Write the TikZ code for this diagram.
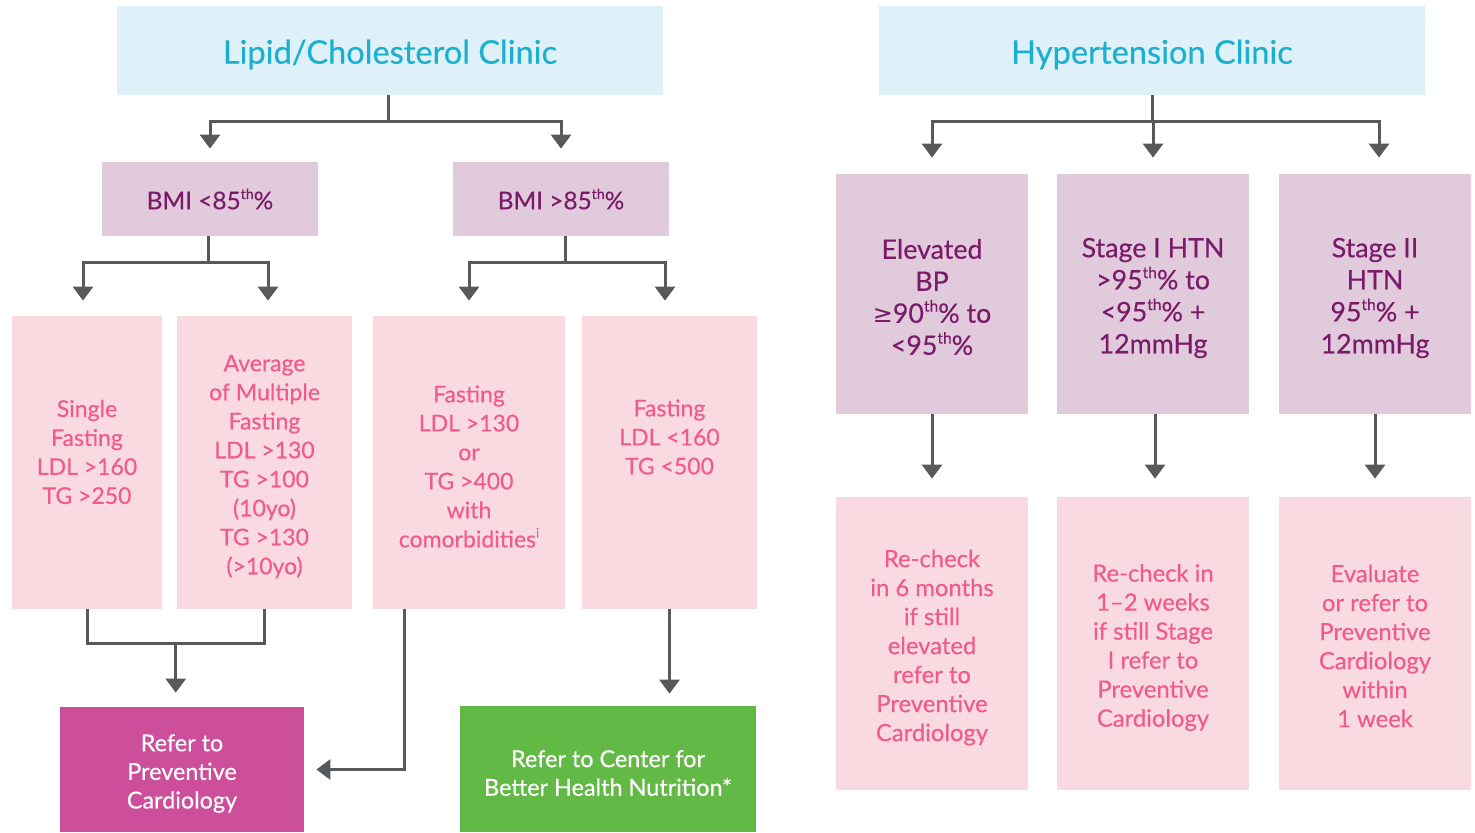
\documentclass[tikz,border=0pt]{standalone}
\usepackage{fontspec}
\setmainfont{Lato}[FakeBold=0.35]
\newfontfamily\dvs{DejaVu Sans}
\usetikzlibrary{arrows.meta,calc}
\definecolor{titlebg}{HTML}{DFF1F8}
\definecolor{titlefg}{HTML}{1BB0D0}
\definecolor{purbg}{HTML}{E1CADB}
\definecolor{purfg}{HTML}{7A1B6A}
\definecolor{pinkbg}{HTML}{F9DAE1}
\definecolor{pinkfg}{HTML}{F05A8C}
\definecolor{magbox}{HTML}{CD4F9C}
\definecolor{greenbox}{HTML}{62B946}
\definecolor{linegray}{HTML}{58595B}
\tikzset{
  box/.style={draw=none, inner sep=0pt},
  txt/.style={inner sep=0pt, align=center, yshift=-2pt},
  titlebox/.style={box, fill=titlebg, minimum width=273pt, minimum height=44.5pt},
  titletxt/.style={txt, text=titlefg, font=\fontsize{16.3}{19}\selectfont},
  bmibox/.style={box, fill=purbg, minimum width=108pt, minimum height=37pt},
  bmitxt/.style={txt, yshift=2pt, text=purfg, font=\fontsize{12.2}{14}\selectfont},
  hypbox/.style={box, fill=purbg, minimum width=96pt, minimum height=120pt},
  hyptxt/.style={txt, text=purfg, font=\fontsize{13.4}{16}\selectfont},
  pinkbox/.style={box, fill=pinkbg, minimum height=146.5pt},
  pinktext/.style={txt, text=pinkfg, font=\fontsize{11.5}{14.5}\selectfont},
  pinktextB/.style={txt, text=pinkfg, font=\fontsize{11.9}{14.5}\selectfont},
  outtxt/.style={txt, text=white, font=\fontsize{11.7}{14.3}\selectfont},
  conn/.style={draw=linegray, line width=1.5pt},
  arr/.style={conn, -{Triangle[width=10pt,length=7pt]}},
}
\newcommand{\supsm}[1]{\raisebox{0.42em}{\scalebox{0.58}{#1}}}
\newcommand{\thp}{\supsm{th}\%}
\begin{document}
\begin{tikzpicture}[x=0.5pt,y=-0.5pt]
\path[use as bounding box] (0,0) rectangle (1475,832);
% titles
\node[titlebox] (lip) at (390,50.5) {};
\node[titletxt] (liptxt) at (lip.center) {Lipid/Cholesterol Clinic};
\node[titlebox] (hyp) at (1152,50.5) {};
\node[titletxt] (hyptxt) at (hyp.center) {Hypertension Clinic};
% BMI
\node[bmibox] (bmiA) at (210,199) {};
\node[bmitxt] (bmiAtxt) at (bmiA.center) {BMI <85\thp};
\node[bmibox] (bmiB) at (561,199) {};
\node[bmitxt] (bmiBtxt) at (bmiB.center) {BMI >85\thp};
% lipid criteria
\node[pinkbox, minimum width=75pt] (single) at (87,462.5) {};
\node[pinktext] (singletxt) at (87,448) {Single\\Fasting\\LDL >160\\TG >250};
\node[pinkbox, minimum width=87.5pt] (avg) at (264.5,462.5) {};
\node[pinktext] (avgtxt) at (avg.center) {Average\\of Multiple\\Fasting\\LDL >130\\TG >100\\(10yo)\\TG >130\\(>10yo)};
\node[pinkbox, minimum width=96pt] (f130) at (469,462.5) {};
\node[pinktext] (f130txt) at (f130.center) {Fasting\\LDL >130\\or\\TG >400\\with\\comorbidities\supsm{i}};
\node[pinkbox, minimum width=87.5pt] (f160) at (669.5,462.5) {};
\node[pinktext] (f160txt) at (669.5,433) {Fasting\\LDL <160\\TG <500};
% outcomes
\node[box, fill=magbox, minimum width=122pt, minimum height=62.5pt] (ref) at (182,769.5) {};
\node[outtxt] (reftxt) at (ref.center) {Refer to\\Preventive\\Cardiology};
\node[box, fill=greenbox, minimum width=148pt, minimum height=63pt] (green) at (608,769) {};
\node[outtxt] (greentxt) at (green.center) {Refer to Center for\\Better Health Nutrition*};
% hypertension stages
\node[hypbox] (e1) at (932,294) {};
\node[hyptxt] (e1txt) at (932,293) {Elevated\\BP\\{\dvs\fontsize{12}{16}\selectfont ≥}90\thp{} to\\<95\thp};
\node[hypbox] (e2) at (1153,294) {};
\node[hyptxt] (e2txt) at (e2.center) {Stage I HTN\\>95\thp{} to\\<95\thp{} +\\12mmHg};
\node[hypbox] (e3) at (1375,294) {};
\node[hyptxt] (e3txt) at (e3.center) {Stage II\\HTN\\95\thp{} +\\12mmHg};
\node[pinkbox, minimum width=96pt] (l1) at (932,643.5) {};
\node[pinktextB] (l1txt) at (l1.center) {Re-check\\in 6 months\\if still\\elevated\\refer to\\Preventive\\Cardiology};
\node[pinkbox, minimum width=96pt] (l2) at (1153,643.5) {};
\node[pinktextB] (l2txt) at (l2.center) {Re-check in\\1–2 weeks\\if still Stage\\I refer to\\Preventive\\Cardiology};
\node[pinkbox, minimum width=96pt] (l3) at (1375,643.5) {};
\node[pinktextB] (l3txt) at (1375,642) {Evaluate\\or refer to\\Preventive\\Cardiology\\within\\1 week};
% connectors lipid
\draw[arr, shorten >=6.5pt] ([xshift=-1pt]lip.south) -- ++(0,26) -| (bmiA.north);
\draw[arr, shorten >=6.5pt] ([xshift=-1pt]lip.south) -- ++(0,26) -| (bmiB.north);
\draw[arr, shorten >=7.5pt] ([xshift=-1pt]bmiA.south) -- ++(0,26) -| ([xshift=-2pt]single.north);
\draw[arr, shorten >=7.5pt] ([xshift=-1pt]bmiA.south) -- ++(0,26) -| ([xshift=1.75pt]avg.north);
\draw[arr, shorten >=7.5pt] ([xshift=2pt]bmiB.south) -- ++(0,26) -| (f130.north);
\draw[arr, shorten >=7.5pt] ([xshift=2pt]bmiB.south) -- ++(0,26) -| ([xshift=-2.25pt]f160.north);
\draw[conn] (single.south) -- ++(0,34) -| (avg.south);
\coordinate (m) at ($(single.south)!0.5!(avg.south)+(0,34)$);
\draw[arr, shorten >=7pt] (m) -- (m |- ref.north);
\draw[arr, shorten >=6pt] ([xshift=-32.5pt]f130.south) |- (ref.east);
\draw[arr, shorten >=6pt] (f160.south) -- (f160.south |- green.north);
% connectors hypertension
\draw[arr, shorten >=8pt] (hyp.south) -- ++(0,26) -| (e1.north);
\draw[arr, shorten >=8pt] (hyp.south) -- ++(0,26) -| (e2.north);
\draw[arr, shorten >=8pt] (hyp.south) -- ++(0,26) -| ([xshift=2pt]e3.north);
\draw[arr, shorten >=9pt] (e1.south) -- (l1.north);
\draw[arr, shorten >=9pt] ([xshift=1pt]e2.south) -- ([xshift=1pt]l2.north);
\draw[arr, shorten >=9pt] (e3.south) -- (l3.north);
\end{tikzpicture}
\end{document}
